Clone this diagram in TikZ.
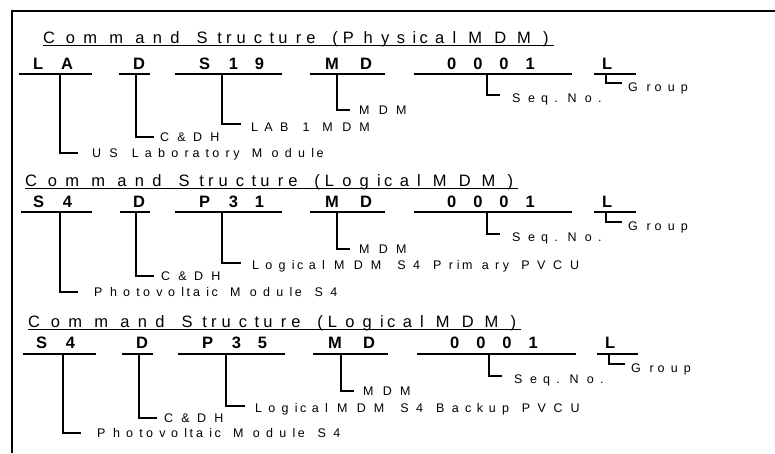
\documentclass[tikz,border=0pt]{standalone}
\usepackage{fontspec}
\setmainfont{Liberation Sans}
\usetikzlibrary{positioning}
% widen the advance of every character by \spreadk
\newcommand\spreadk{1.9}
\ExplSyntaxOn
\NewDocumentCommand \spread { m }
 {
  \str_map_inline:nn {#1}
   {
    \hbox_set:Nn \l_tmpa_box {##1}
    \hbox_to_wd:nn { \spreadk \box_wd:N \l_tmpa_box } { \box_use_drop:N \l_tmpa_box \hfil }
   }
 }
\ExplSyntaxOff
\tikzset{
 head/.style={anchor=base west,inner sep=0,font=\fontsize{16.5}{18}\selectfont},
 code/.style={anchor=base west,inner sep=0,font=\bfseries\fontsize{16.5}{18}\selectfont},
 tag/.style={anchor=west,inner sep=0,text height=9pt,text depth=0pt,font=\fontsize{12.5}{14}\selectfont},
 bar/.style={line width=2.4pt},
 leg/.style={line width=2.4pt},
 frame/.style={line width=2.4pt},
 headline/.style={line width=1pt}
}
\begin{document}
\begin{tikzpicture}[x=1pt,y=-1pt]
\path[use as bounding box] (0,0) rectangle (775,453);
\draw[frame] (12,453) -- (12,11) -- (775,11);
% physical MDM
\node[head] (h1) at (43,43) {\spread{Command Structure (Physical MDM)}};
\draw[headline] ([yshift=-2pt]h1.base west) -- ([yshift=-2pt]h1.base east);
\node[code] (c1a) at (33,69) {\spread{L A}};
\node[code] (c1b) at (133,69) {\spread{D}};
\node[code] (c1c) at (199,69) {\spread{S 1 9}};
\node[code] (c1d) at (325,69) {\spread{M D}};
\node[code] (c1e) at (447,69) {\spread{0 0 0 1}};
\node[code] (c1f) at (602,69) {\spread{L}};
\draw[bar] (19,74) -- (92,74);
\draw[bar] (119,74) -- (150,74);
\draw[bar] (175,74) -- (282,74);
\draw[bar] (310,74) -- (385,74);
\draw[bar] (414,74) -- (572,74);
\draw[bar] (594,74) -- (636,74);
\draw[leg] (60,74) |- (78,153) coordinate (e1a);
\draw[leg] (136,74) |- (154,137) coordinate (e1b);
\draw[leg] (222,74) |- (241,124) coordinate (e1c);
\draw[leg] (337,74) |- (350,110) coordinate (e1d);
\draw[leg] (487,74) |- (500,95) coordinate (e1e);
\draw[leg] (606,74) |- (622,83) coordinate (e1f);
\node[tag,right=14pt of e1a] (l1a) {\spread{US Laboratory Module}};
\node[tag,right=6pt of e1b] (l1b) {\spread{C&DH}};
\node[tag,right=10pt of e1c,yshift=-2.5pt] (l1c) {\spread{LAB 1 MDM}};
\node[tag,right=9pt of e1d] (l1d) {\spread{MDM}};
\node[tag,right=12pt of e1e,yshift=-2.5pt] (l1e) {\spread{Seq. No.}};
\node[tag,right=6pt of e1f,yshift=-4pt] (l1f) {\spread{Group}};
% logical MDM, primary
\begin{scope}[yshift=-138pt]
\node[head] (h2) at (25,48) {\spread{Command Structure (Logical MDM)}};
\draw[headline] ([yshift=-2pt]h2.base west) -- ([yshift=-2pt]h2.base east);
\node[code] (c2a) at (33,69) {\spread{S 4}};
\node[code] (c2b) at (133,69) {\spread{D}};
\node[code] (c2c) at (199,69) {\spread{P 3 1}};
\node[code] (c2d) at (325,69) {\spread{M D}};
\node[code] (c2e) at (447,69) {\spread{0 0 0 1}};
\node[code] (c2f) at (602,69) {\spread{L}};
\draw[bar] (21,74) -- (92,74);
\draw[bar] (120,74) -- (150,74);
\draw[bar] (175,74) -- (282,74);
\draw[bar] (310,74) -- (385,74);
\draw[bar] (414,74) -- (572,74);
\draw[bar] (594,74) -- (636,74);
\draw[leg] (60,74) |- (78,154) coordinate (e2a);
\draw[leg] (136,74) |- (154,138) coordinate (e2b);
\draw[leg] (222,74) |- (241,125) coordinate (e2c);
\draw[leg] (337,74) |- (350,111) coordinate (e2d);
\draw[leg] (487,74) |- (500,96) coordinate (e2e);
\draw[leg] (606,74) |- (622,84) coordinate (e2f);
\node[tag,right=16pt of e2a] (l2a) {\spread{Photovoltaic Module S4}};
\node[tag,right=7pt of e2b] (l2b) {\spread{C&DH}};
\node[tag,right=11pt of e2c,yshift=-2pt] (l2c) {\spread{Logical MDM S4 Primary PVCU}};
\node[tag,right=9pt of e2d] (l2d) {\spread{MDM}};
\node[tag,right=12pt of e2e,yshift=-3pt] (l2e) {\spread{Seq. No.}};
\node[tag,right=6pt of e2f,yshift=-4pt] (l2f) {\spread{Group}};
\end{scope}
% logical MDM, backup
\begin{scope}[xshift=3pt,yshift=-280pt]
\node[head] (h3) at (25,47) {\spread{Command Structure (Logical MDM)}};
\draw[headline] ([yshift=-2pt]h3.base west) -- ([yshift=-2pt]h3.base east);
\node[code] (c3a) at (33,68) {\spread{S 4}};
\node[code] (c3b) at (133,68) {\spread{D}};
\node[code] (c3c) at (199,68) {\spread{P 3 5}};
\node[code] (c3d) at (325,68) {\spread{M D}};
\node[code] (c3e) at (447,68) {\spread{0 0 0 1}};
\node[code] (c3f) at (602,68) {\spread{L}};
\draw[bar] (20,74) -- (93,74);
\draw[bar] (119,74) -- (150,74);
\draw[bar] (175,74) -- (282,74);
\draw[bar] (310,74) -- (385,74);
\draw[bar] (414,74) -- (573,74);
\draw[bar] (594,74) -- (635,74);
\draw[leg] (60,74) |- (78,153) coordinate (e3a);
\draw[leg] (136,74) |- (154,138) coordinate (e3b);
\draw[leg] (223,74) |- (242,126) coordinate (e3c);
\draw[leg] (338,74) |- (351,111) coordinate (e3d);
\draw[leg] (486,74) |- (499,96) coordinate (e3e);
\draw[leg] (606,74) |- (622,84) coordinate (e3f);
\node[tag,right=16pt of e3a] (l3a) {\spread{Photovoltaic Module S4}};
\node[tag,right=7pt of e3b] (l3b) {\spread{C&DH}};
\node[tag,right=10pt of e3c,yshift=-2pt] (l3c) {\spread{Logical MDM S4 Backup PVCU}};
\node[tag,right=9pt of e3d] (l3d) {\spread{MDM}};
\node[tag,right=12pt of e3e,yshift=-3pt] (l3e) {\spread{Seq. No.}};
\node[tag,right=6pt of e3f,yshift=-4pt] (l3f) {\spread{Group}};
\end{scope}
\end{tikzpicture}
\end{document}
